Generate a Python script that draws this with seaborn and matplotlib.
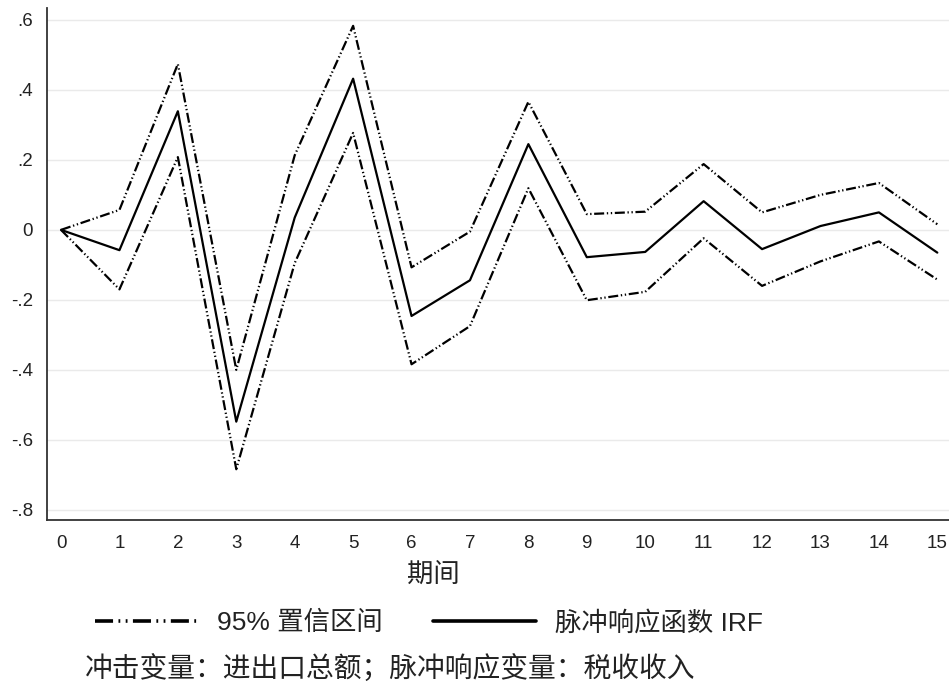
import numpy as np
import pandas as pd
import matplotlib
matplotlib.use("Agg")
import matplotlib.pyplot as plt
from matplotlib.lines import Line2D
import seaborn as sns

periods = list(range(16))
irf = [0.0, -0.058, 0.339, -0.548, 0.035, 0.432, -0.246, -0.144,
       0.245, -0.078, -0.063, 0.082, -0.055, 0.011, 0.050, -0.065]
upper = [0.0, 0.057, 0.474, -0.40, 0.213, 0.583, -0.107, -0.005,
         0.366, 0.045, 0.052, 0.188, 0.050, 0.100, 0.134, 0.016]
lower = [0.0, -0.170, 0.208, -0.684, -0.095, 0.277, -0.384, -0.275,
         0.119, -0.201, -0.177, -0.024, -0.160, -0.090, -0.033, -0.142]
yticks = [0.6, 0.4, 0.2, 0.0, -0.2, -0.4, -0.6, -0.8]
ytick_labels = [".6", ".4", ".2", "0", "-.2", "-.4", "-.6", "-.8"]
xlabel = "期间"
ci_label = "95% 置信区间"
irf_label = "脉冲响应函数 IRF"
note = "冲击变量：进出口总额；脉冲响应变量：税收收入"

sns.set_theme(style="white")
plt.rcParams['font.family'] = ['Liberation Sans', 'Noto Sans CJK SC', 'DejaVu Sans']

df = pd.DataFrame({"period": periods, "irf": irf, "upper": upper, "lower": lower})

W, H = 949, 684
fig = plt.figure(figsize=(W / 100, H / 100), dpi=100)
ax = fig.add_axes([47 / W, 1 - 520 / H, (W - 47) / W, (520 - 8) / H])

dash = (0, (4.5, 1.2, 0.6, 1.2, 0.6, 1.2))
lw = 1.6
sns.lineplot(data=df, x="period", y="upper", ax=ax, color="black", lw=lw, linestyle=dash)
sns.lineplot(data=df, x="period", y="lower", ax=ax, color="black", lw=lw, linestyle=dash)
sns.lineplot(data=df, x="period", y="irf", ax=ax, color="black", lw=lw)

ax.set_xlim(-0.24, 15.2)
ax.set_ylim(-0.829, 0.634)
ax.set_xticks(periods)
ax.set_xticklabels([str(p) for p in periods], fontsize=13.5)
ax.set_yticks(yticks)
ax.set_yticklabels(ytick_labels, fontsize=13.5)
ax.yaxis.grid(True, color="#eaeaea", lw=1)
ax.xaxis.grid(False)
ax.set_axisbelow(True)
for s in ["top", "right"]:
    ax.spines[s].set_visible(False)
for s in ["left", "bottom"]:
    ax.spines[s].set_color("#333333")
    ax.spines[s].set_linewidth(1.3)
ax.tick_params(axis="y", which="major", direction="out", length=6, width=1,
               color="#333333", pad=4, labelcolor="#222222")
ax.tick_params(axis="x", which="major", direction="out", length=6, width=1,
               color="#333333", pad=5, labelcolor="#222222")
ax.set_xlabel("")
ax.set_ylabel("")
fig.text(433 / W, 1 - 575 / H, xlabel, fontsize=19, ha="center", va="center", color="#222222")

handles = [Line2D([], [], color="black", lw=2.6, linestyle=(0, (5, 1.5, 0.5, 1.5, 0.5, 1.5))),
           Line2D([], [], color="black", lw=2.6)]
fig.legend(handles, [ci_label, irf_label], loc="center", bbox_to_anchor=(429 / W, 1 - 623 / H),
           ncol=2, frameon=False, fontsize=19, handlelength=3.9, handletextpad=0.72,
           columnspacing=1.9, labelcolor="#222222", borderpad=0, borderaxespad=0)
fig.text(85 / W, 1 - 670 / H, note, fontsize=20, va="center", ha="left", color="#222222")

fig.savefig("out.png", dpi=100, facecolor="white")
